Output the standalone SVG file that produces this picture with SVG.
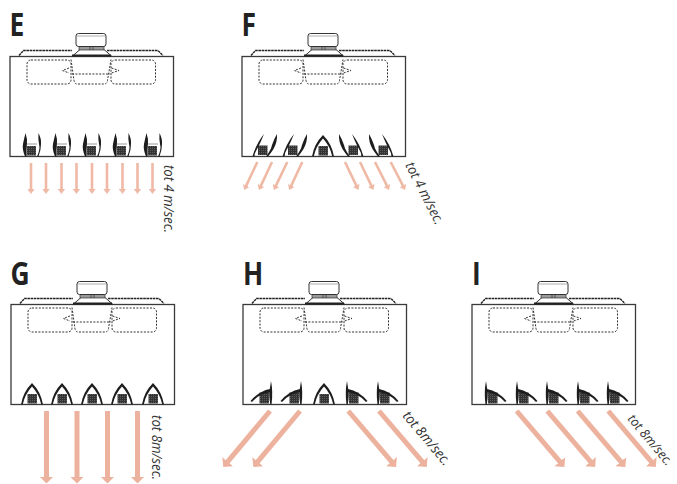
<svg xmlns="http://www.w3.org/2000/svg" width="677" height="484" viewBox="0 0 677 484">
<style>
.box{fill:#fff;stroke:#3a3a3a;stroke-width:1.3}
.dash{fill:none;stroke:#333;stroke-width:1;stroke-dasharray:2 1.4}
.roof{fill:none;stroke:#222;stroke-width:1.4;stroke-dasharray:2.6 .6}
.fan{fill:#fff;stroke:#333;stroke-width:1}
.blade{fill:#1d1d1d}
.sq{fill:url(#grid)}
.thin{stroke:#f0b9a6;stroke-width:2.6;fill:none;marker-end:url(#ht)}
.thick{stroke:#edb29d;stroke-width:5;fill:none;marker-end:url(#hk)}
.lab{font-family:"Open Sans","Liberation Sans",sans-serif;font-weight:700;font-size:33px;fill:#222}
.note{font-family:"Open Sans","Liberation Sans",sans-serif;font-style:italic;font-size:14px;fill:#333}
.small{font-size:13px}
</style>
<defs>
<pattern id="grid" width="2" height="2" patternUnits="userSpaceOnUse"><rect width="2" height="2" fill="#333"/><rect width="1" height="1" fill="#5c5c5c"/></pattern>
<marker id="ht" markerUnits="userSpaceOnUse" markerWidth="6" markerHeight="8" refX="1" refY="4" orient="auto"><path d="M0,.4 L5,4 L0,7.6Z" fill="#f0b9a6"/></marker>
<marker id="hk" markerUnits="userSpaceOnUse" markerWidth="8" markerHeight="15" refX="1" refY="7.5" orient="auto"><path d="M0,.5 L7,7.5 L0,14.5Z" fill="#edb29d"/></marker>
<g id="body">
<path class="roof" d="M9,-1 L13.5,-6 H62 M97,-6 H148 L153,-1"/>
<rect class="box" x="0" y="0" width="163.5" height="100"/>
<rect class="dash" x="17" y="3.500" width="44" height="24" rx="4"/>
<rect class="dash" x="101" y="3.500" width="44.500" height="24" rx="4"/>
<path class="dash" d="M61,3 L64,24 Q64.500,27.500 67,27.500 H94 Q97,27.500 97.500,24 L101,3 M62,17.500 H100"/>
<path class="dash" d="M59,11.500 L52.500,14 L59,16.500 M101.500,11.500 L109,14 L101.500,16.500" stroke-dasharray="1.600 1.200"/>
<path d="M70,-7 H94 L102,0 H62Z" fill="#fff" stroke="#333" stroke-width="1"/>
<rect x="62" y="-2" width="39" height="2" fill="#222"/>
<rect x="69" y="-10" width="25" height="3.500" fill="#999" stroke="#333" stroke-width=".7"/>
<path d="M80,-10 V-6.500 M83,-10 V-6.500" stroke="#333" stroke-width=".7"/>
<rect class="fan" x="66" y="-23" width="30" height="13" rx="2.500"/>
<path d="M67,-20.500 H95" stroke="#777" stroke-width=".6"/>
</g>
<g id="v-straight">
<rect class="sq" x="-4.500" y="-10" width="9.500" height="9.500"/>
<path class="blade" d="M-6,0.500 Q-9,-7 -8,-12 Q-7,-17 -5.500,-23 Q-3.500,-17 -4,-12 Q-5.500,-6 -4.500,0.500Z"/>
<path class="blade" d="M6,0.500 Q9.500,-7 8,-12 Q7,-17 7.500,-23 Q10.500,-17 10,-12 Q10,-6 7.500,0.500Z"/>
<path d="M-5,-12 H6" stroke="#555" stroke-width=".6"/>
</g>
<g id="v-arch">
<rect class="sq" x="-4.500" y="-10" width="9.500" height="9.500"/>
<path class="blade" d="M-11,0.500 Q-9,-12 0,-21 Q9,-12 11,0.500 H9.300 Q7,-10 0,-17.500 Q-7,-10 -9.300,0.500Z"/>
</g>
<g id="v-left">
<rect class="sq" x="-5" y="-10.500" width="9.500" height="9.500"/>
<path class="blade" d="M-10.500,0.500 Q-7,-12 1,-22 Q-3,-12 -6.500,-6 Q-8.500,-3 -8.500,0.500Z"/>
<path class="blade" d="M3,0.500 Q8,-6 9,-11 Q11,-17 14,-22 Q14.500,-14 10.500,-7 Q8,-3 5,0.500Z"/>
</g>
<g id="v-right"><use href="#v-left" transform="scale(-1,1)"/></g>
<g id="v-hl">
<rect class="sq" x="-4.500" y="-11.500" width="9.500" height="11"/>
<path class="blade" d="M7,-23 Q9.200,-12 7.500,0.500 H6.300 Q4.800,-8 5.500,-13 Z"/>
<path class="blade" d="M-13.500,-3 Q-5,-13 6,-15 V-11.500 Q-4,-11 -12,-2Z"/>
</g>
<g id="v-hr"><use href="#v-hl" transform="scale(-1,1)"/></g>
</defs>

<g id="unit-E" transform="translate(10,56.500)">
<use href="#body"/>
<use href="#v-straight" x="21" y="99.500"/><use href="#v-straight" x="51" y="99.500"/><use href="#v-straight" x="81" y="99.500"/><use href="#v-straight" x="111" y="99.500"/><use href="#v-straight" x="142" y="99.500"/>
</g>
<g id="unit-F" transform="translate(242,56.500)">
<use href="#body"/>
<use href="#v-left" x="21" y="99.500"/><use href="#v-left" x="51" y="99.500"/><use href="#v-arch" x="81" y="99.500"/><use href="#v-right" x="111" y="99.500"/><use href="#v-right" x="141" y="99.500"/>
</g>
<g id="unit-G" transform="translate(11,304.500)">
<use href="#body"/>
<use href="#v-arch" x="21" y="99.500"/><use href="#v-arch" x="51" y="99.500"/><use href="#v-arch" x="81" y="99.500"/><use href="#v-arch" x="111" y="99.500"/><use href="#v-arch" x="142" y="99.500"/>
</g>
<g id="unit-H" transform="translate(243,304.500)">
<use href="#body"/>
<use href="#v-hl" x="21" y="99.500"/><use href="#v-hl" x="51" y="99.500"/><use href="#v-arch" x="81" y="99.500"/><use href="#v-hr" x="111" y="99.500"/><use href="#v-hr" x="142" y="99.500"/>
</g>
<g id="unit-I" transform="translate(472,304.500)">
<use href="#body"/>
<use href="#v-hr" x="21" y="99.500"/><use href="#v-hr" x="52" y="99.500"/><use href="#v-hr" x="82" y="99.500"/><use href="#v-hr" x="113" y="99.500"/><use href="#v-hr" x="143" y="99.500"/>
</g>

<g id="connectors">
<path class="thin" d="M31,163V190"/><path class="thin" d="M46,163V190"/><path class="thin" d="M61.500,163V190"/><path class="thin" d="M76.500,163V190"/><path class="thin" d="M92,163V190"/><path class="thin" d="M107,163V190"/><path class="thin" d="M122.500,163V190"/><path class="thin" d="M137.500,163V190"/><path class="thin" d="M152.500,163V190"/>
<path class="thin" d="M257.300,162L245.900,186.400"/><path class="thin" d="M272,162L260.600,186.400"/><path class="thin" d="M287.300,162L275.600,186.400"/><path class="thin" d="M302.300,162L290.900,186.400"/>
<path class="thin" d="M345,162L356.700,186.400"/><path class="thin" d="M360,162L371.700,186.400"/><path class="thin" d="M375,162L387.300,186.400"/><path class="thin" d="M390.700,162L403.300,186.400"/>
<path class="thick" d="M46.500,411V477.500"/><path class="thick" d="M77,411V477.500"/><path class="thick" d="M107.500,411V477.500"/><path class="thick" d="M137.500,411V477.500"/>
<path class="thick" d="M270,411L227.100,462.400"/><path class="thick" d="M300,411L257.100,462.400"/>
<path class="thick" d="M348.300,411L392.200,462.400"/><path class="thick" d="M379,411L422.900,462.400"/>
<path class="thick" d="M516.700,411L560.500,462.400"/><path class="thick" d="M547.300,411L591.200,462.400"/><path class="thick" d="M577.700,411L621.500,462.400"/><path class="thick" d="M608.300,411L651.900,462.400"/>
</g>

<g id="labels">
<text class="lab" transform="translate(9.500,36) scale(.8,1)">E</text>
<text class="lab" transform="translate(241.500,36) scale(.8,1)">F</text>
<text class="lab" transform="translate(10.500,284.500) scale(.8,1)">G</text>
<text class="lab" transform="translate(243,284.500) scale(.8,1)">H</text>
<text class="lab" transform="translate(472,284.500) scale(.8,1)">I</text>
<text class="note" transform="translate(164,165) rotate(90)" textLength="68" lengthAdjust="spacingAndGlyphs">tot 4 m/sec.</text>
<text class="note" transform="translate(405,165) rotate(63)" textLength="68" lengthAdjust="spacingAndGlyphs">tot 4 m/sec.</text>
<text class="note" transform="translate(152,415) rotate(90)" textLength="65" lengthAdjust="spacingAndGlyphs">tot 8m/sec.</text>
<text class="note" transform="translate(402,416) rotate(50)" textLength="66" lengthAdjust="spacingAndGlyphs">tot 8m/sec.</text>
<text class="note small" transform="translate(627,419) rotate(50)" textLength="62" lengthAdjust="spacingAndGlyphs">tot 8m/sec.</text>
</g>
</svg>
